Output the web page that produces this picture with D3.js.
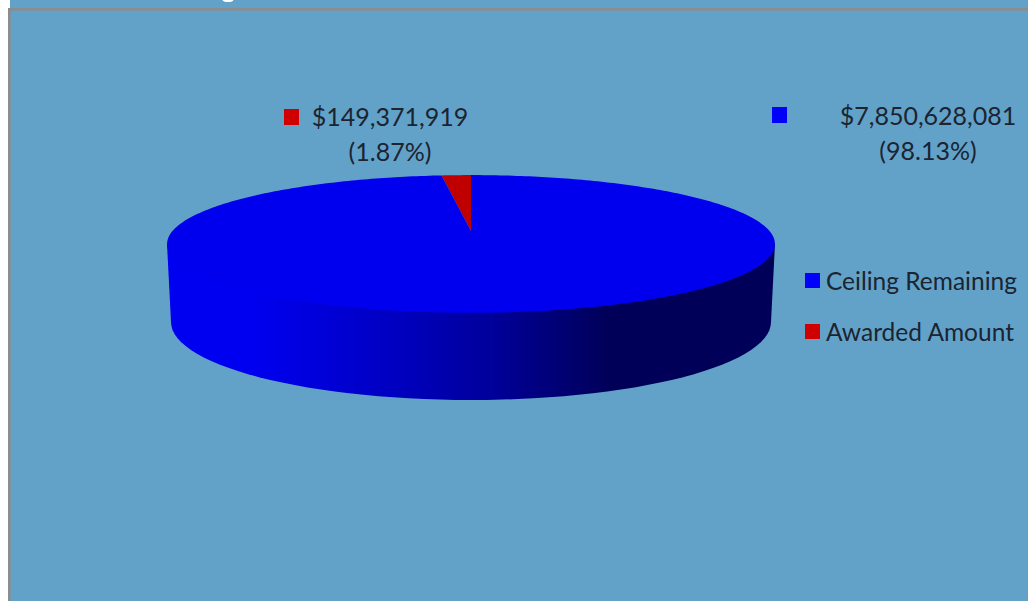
<!DOCTYPE html>
<html>
<head>
<meta charset="utf-8">
<script src="https://cdn.jsdelivr.net/npm/d3@7"></script>
<style>
  html, body { margin: 0; padding: 0; background: #fff; overflow: hidden; }
  text { font-family: Lato, "Noto Sans", sans-serif; fill: #1b2430; }
</style>
</head>
<body>
<div id="chart"></div>
<script>
  const categories = ['Awarded Amount', 'Ceiling Remaining']
  const amounts = [149371919, 7850628081]
  const amountLabels = ['$149,371,919', '$7,850,628,081']
  const percentLabels = ['(1.87%)', '(98.13%)']
  const legendOrder = ['Ceiling Remaining', 'Awarded Amount']
  const sliceColors = ['#c00000', '#0000ee']
  const keyColors = ['#d00000', '#0000ff']

  const width = 1028
  const height = 601
  const svg = d3.select('#chart').append('svg')
    .attr('width', width)
    .attr('height', height)

  // plot area
  svg.append('rect').attr('x', 8).attr('y', 0).attr('width', width).attr('height', height).attr('fill', '#62a2c9')
  svg.append('rect').attr('x', 0).attr('y', 0).attr('width', 10).attr('height', 8).attr('fill', '#fff')
  svg.append('rect').attr('x', 8).attr('y', 8).attr('width', width).attr('height', 2.6).attr('fill', '#8c8c8c')
  svg.append('rect').attr('x', 8).attr('y', 8).attr('width', 2.6).attr('height', height).attr('fill', '#8c8c8c')

  // white scrap left of the title that the crop cut off
  svg.append('ellipse').attr('cx', 228).attr('cy', 0).attr('rx', 5.5).attr('ry', 2).attr('fill', '#fff')

  // pie tilted in perspective: maps a pie angle to the top face
  const cx = 471
  const tilt = -0.188
  const topFace = angle => {
    const u = Math.sin(angle)
    const v = -Math.cos(angle)
    const w = 1 + tilt * v
    return [cx + 298.5 * u / w, (231 + 23 * v) / w]
  }
  const apex = [cx, 231]

  const startAngle = -2 * Math.PI * amounts[0] / d3.sum(amounts)
  const pie = d3.pie().sort(null).startAngle(startAngle).endAngle(2 * Math.PI + startAngle)
  const slices = pie(amounts)
  const line = d3.line()

  // side wall first
  const defs = svg.append('defs')
  const grad = defs.append('linearGradient').attr('id', 'wall')
    .attr('gradientUnits', 'userSpaceOnUse')
    .attr('x1', 167).attr('x2', 775).attr('y1', 0).attr('y2', 0)
  const stops = [[0.14, '#0000f0'], [0.36, '#0000c4'], [0.53, '#00009c'], [0.73, '#000058'], [1, '#000058']]
  grad.selectAll('stop').data(stops).join('stop')
    .attr('offset', d => d[0])
    .attr('stop-color', d => d[1])

  const wallBottom = d3.range(90, 271, 3).map(a => {
    const t = a * Math.PI / 180
    return [cx + 300 * Math.sin(t), 322 - 78 * Math.cos(t)]
  })
  svg.append('path')
    .attr('d', line([[775, 244]].concat(wallBottom, [[167, 244]])) + 'Z')
    .attr('fill', 'url(#wall)')

  // top face slices
  svg.selectAll('path.slice').data(slices).join('path')
    .attr('class', 'slice')
    .attr('fill', (d, i) => sliceColors[i])
    .attr('d', d => {
      const n = Math.max(4, Math.ceil((d.endAngle - d.startAngle) * 60))
      const pts = d3.range(n + 1).map(k => topFace(d.startAngle + (d.endAngle - d.startAngle) * k / n))
      return line([apex].concat(pts)) + 'Z'
    })

  // data labels
  const labelAt = [
    { key: [284, 109], x: 390, y: 126, y2: 161 },
    { key: [772, 107], x: 928, y: 125, y2: 160 }
  ]
  labelAt.forEach((p, i) => {
    svg.append('rect').attr('x', p.key[0]).attr('y', p.key[1]).attr('width', 15).attr('height', 16).attr('fill', keyColors[i])
    svg.append('text').attr('x', p.x).attr('y', p.y).attr('text-anchor', 'middle').attr('font-size', 25).text(amountLabels[i])
    svg.append('text').attr('x', p.x).attr('y', p.y2).attr('text-anchor', 'middle').attr('font-size', 25).text(percentLabels[i])
  })

  // legend
  const legendY = d3.scalePoint().domain(legendOrder).range([281, 332])
  legendOrder.forEach(name => {
    const i = categories.indexOf(name)
    svg.append('rect').attr('x', 805).attr('y', legendY(name) - 8).attr('width', 15).attr('height', 15).attr('fill', keyColors[i])
    svg.append('text').attr('x', 826).attr('y', legendY(name) + 9).attr('font-size', 24.5).text(name)
  })
</script>
</body>
</html>
